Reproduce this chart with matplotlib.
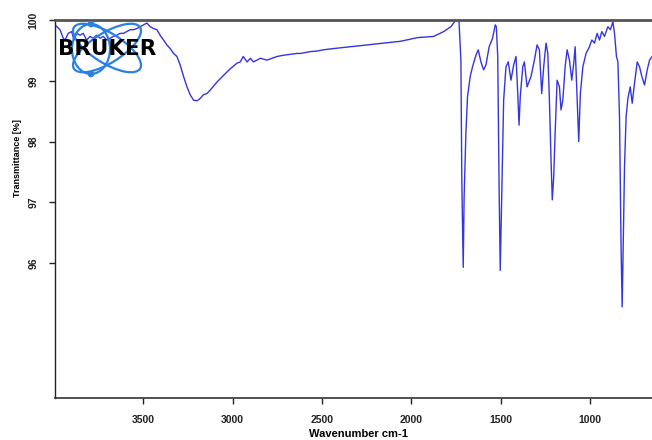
import matplotlib
matplotlib.use("Agg")
import matplotlib.pyplot as plt
from matplotlib.patches import Ellipse, Circle

# ---- data ----
wavenumber = [3993, 3965, 3947, 3937, 3919, 3900, 3887, 3872, 3853, 3835, 3816, 3797,
              3779, 3760, 3741, 3723, 3703, 3685, 3666, 3647, 3629, 3610, 3591, 3573,
              3554, 3535, 3517, 3498, 3479, 3461, 3442, 3423, 3405, 3386, 3367, 3349,
              3330, 3311, 3293, 3274, 3255, 3237, 3218, 3199, 3181, 3163, 3143, 3124,
              3087, 3050, 3012, 2975, 2957, 2940, 2919, 2900, 2883, 2844, 2807, 2751,
              2715, 2639, 2620, 2564, 2526, 2491, 2435, 2340, 2246, 2155, 2060, 1966,
              1875, 1819, 1779, 1751, 1734, 1723, 1718, 1710, 1705, 1695, 1686, 1671,
              1658, 1639, 1626, 1611, 1596, 1583, 1565, 1546, 1531, 1525, 1517, 1509,
              1503, 1495, 1484, 1471, 1458, 1443, 1428, 1415, 1405, 1398, 1391, 1377,
              1368, 1353, 1331, 1312, 1297, 1284, 1271, 1260, 1247, 1237, 1228, 1219,
              1212, 1204, 1196, 1185, 1172, 1163, 1153, 1140, 1129, 1116, 1103, 1092,
              1084, 1073, 1064, 1055, 1041, 1023, 1004, 991, 976, 961, 948, 935,
              920, 901, 887, 873, 864, 853, 845, 836, 827, 821, 816, 808,
              799, 789, 776, 765, 752, 737, 724, 711, 696, 681, 668, 648]
transmittance = [99.92, 99.84, 99.70, 99.67, 99.78, 99.81, 99.67, 99.78, 99.75, 99.78, 99.67, 99.73,
                 99.70, 99.75, 99.70, 99.73, 99.67, 99.70, 99.73, 99.75, 99.78, 99.78, 99.81, 99.84,
                 99.84, 99.86, 99.89, 99.92, 99.95, 99.89, 99.86, 99.84, 99.75, 99.67, 99.59, 99.53,
                 99.45, 99.40, 99.26, 99.07, 98.90, 98.77, 98.68, 98.67, 98.71, 98.77, 98.79, 98.85,
                 98.98, 99.09, 99.20, 99.29, 99.31, 99.40, 99.31, 99.37, 99.31, 99.37, 99.34, 99.40,
                 99.42, 99.45, 99.45, 99.48, 99.49, 99.51, 99.53, 99.56, 99.59, 99.62, 99.65, 99.71,
                 99.73, 99.81, 99.89, 100.0, 100.0, 99.34, 97.37, 95.93, 97.09, 98.14, 98.74, 99.07,
                 99.23, 99.42, 99.51, 99.31, 99.18, 99.26, 99.56, 99.70, 99.92, 99.89, 99.40, 97.15,
                 95.88, 97.04, 98.68, 99.23, 99.31, 99.01, 99.26, 99.40, 98.79, 98.27, 98.74, 99.23,
                 99.31, 98.90, 99.07, 99.34, 99.59, 99.51, 98.79, 99.23, 99.62, 99.45, 98.68, 97.70,
                 97.04, 97.42, 98.14, 99.01, 98.90, 98.52, 98.68, 99.23, 99.51, 99.34, 99.01, 99.29,
                 99.56, 98.68, 98.00, 98.79, 99.23, 99.45, 99.56, 99.67, 99.62, 99.78, 99.67, 99.81,
                 99.73, 99.89, 99.84, 99.97, 99.78, 99.40, 99.31, 98.41, 96.21, 95.28, 96.21, 97.59,
                 98.41, 98.71, 98.90, 98.63, 98.96, 99.31, 99.23, 99.07, 98.93, 99.18, 99.34, 99.42]

x_ticks = [3500, 3000, 2500, 2000, 1500, 1000]
y_ticks = [96, 97, 98, 99, 100]
x_label = "Wavenumber cm-1"
y_label = "Transmittance [%]"
logo_text = "BRUKER"

W, H = 652, 440
fig = plt.figure(figsize=(W / 100, H / 100), dpi=100)
fig.patch.set_facecolor("white")

ax = fig.add_axes([55 / W, 1 - 398 / H, (W - 55) / W + 0.002, (398 - 20) / H])
ax.plot(wavenumber, transmittance, color="#3535e0", lw=1.0)
ax.set_xlim(3993, 647)
ax.set_ylim(93.78, 100)

ax.set_xticks(x_ticks)
ax.set_xticklabels([str(v) for v in x_ticks])
ax.set_yticks(y_ticks)
ax.set_yticklabels([str(v) for v in y_ticks], rotation=90, va="center")

tick_font = dict(family="Liberation Sans", weight="bold", size=7.5)
for lab in ax.get_xticklabels() + ax.get_yticklabels():
    lab.set_fontproperties(matplotlib.font_manager.FontProperties(**tick_font))
ax.tick_params(axis="x", direction="out", length=4, width=1, pad=8, colors="#222222")
ax.tick_params(axis="y", direction="out", length=4, width=1, pad=8, colors="#222222")

ax.spines["top"].set_color("#555555")
ax.spines["top"].set_linewidth(2.0)
ax.spines["left"].set_color("#222222")
ax.spines["left"].set_linewidth(1.0)
ax.spines["bottom"].set_color("#333333")
ax.spines["bottom"].set_linewidth(1.2)
ax.spines["right"].set_visible(False)

fig.text(358 / W, 1 - 434 / H, x_label, ha="center", va="center",
         family="Liberation Sans", weight="bold", size=8)
fig.text(18 / W, 1 - 158 / H, y_label, ha="center", va="center", rotation=90,
         family="Liberation Sans", weight="bold", size=6.5)

# ---- Bruker logo overlay (pixel coordinates) ----
ov = fig.add_axes([0, 0, 1, 1], facecolor="none")
ov.set_xlim(0, W)
ov.set_ylim(H, 0)
ov.axis("off")
logo_blue = "#2a80e2"
ov.add_patch(Ellipse((107, 48), 78, 30, angle=32, fill=False, ec=logo_blue, lw=1.6))
ov.add_patch(Ellipse((107, 48), 78, 30, angle=-32, fill=False, ec=logo_blue, lw=1.6))
ov.add_patch(Ellipse((91, 49), 38, 50, angle=0, fill=False, ec=logo_blue, lw=1.6))
ov.add_patch(Circle((91, 24), 2.6, color=logo_blue))
ov.add_patch(Circle((91, 74), 2.6, color=logo_blue))
ov.text(107, 49, logo_text, ha="center", va="center", color="black",
        family="DejaVu Sans", weight="bold", size=15.5)

fig.savefig("out.png", dpi=100, facecolor="white")
